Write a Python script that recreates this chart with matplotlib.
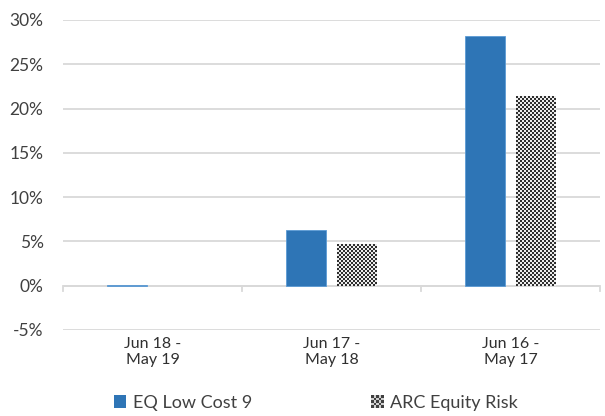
import numpy as np
import matplotlib.pyplot as plt
from matplotlib.patches import Patch
from matplotlib.legend_handler import HandlerPatch

plt.rcParams['font.family'] = ['Lato', 'DejaVu Sans']

categories = ["Jun 18 -\nMay 19", "Jun 17 -\nMay 18", "Jun 16 -\nMay 17"]
eq_low_cost = [0.1, 6.3, 28.2]
arc_equity = [0.0, 4.7, 21.4]
yticks = [-5, 0, 5, 10, 15, 20, 25, 30]

blue = "#2E75B6"
txt = "#404040"
grid = "#d9d9d9"

fig = plt.figure(figsize=(6.05, 4.16), dpi=100)
ax = fig.add_axes([63/605, 1-330/416, 537/605, 310/416])

x = np.arange(len(categories))
w = 0.223
off = 0.145

ax.bar(x - off, eq_low_cost, w, color=blue, edgecolor="#5b9bd5", linewidth=0.6, zorder=3)
arc_bars = ax.bar(x + off, arc_equity, w, color="white", linewidth=0, zorder=3)

# fine checkerboard fill for the ARC bars
for b in arc_bars:
    h = b.get_height()
    if h <= 0:
        continue
    nx = 20
    ny = max(1, int(round(h * 8.87 / 2)))
    checker = (np.indices((ny, nx)).sum(axis=0) % 2)
    im = ax.imshow(checker, cmap="gray", vmin=-0.25, vmax=1.1, interpolation="nearest",
                   extent=[b.get_x(), b.get_x() + b.get_width(), 0, h],
                   aspect="auto", zorder=4)
    im.set_clip_path(b)

ax.set_xlim(-0.5, 2.5)
ax.set_ylim(-5, 30)
ax.set_yticks(yticks)
ax.set_yticklabels([f"{v}%" for v in yticks], fontsize=12.5, color=txt)
ax.yaxis.grid(True, color=grid, linewidth=1.3, zorder=0)
ax.tick_params(axis="y", length=0, pad=14)

# category labels below the plot, boundary ticks on the zero line
ax.set_xticks([])
for i, c in enumerate(categories):
    ax.text(i, -5.8, c, ha="center", va="top", fontsize=11.5, color="#303030", linespacing=1.15)
ax.axhline(0, color=grid, linewidth=1.3, zorder=2)
for bx in [-0.5, 0.5, 1.5, 2.5]:
    ax.plot([bx, bx], [0, -0.6], color=grid, linewidth=1.3, clip_on=False, zorder=2)

for s in ax.spines.values():
    s.set_visible(False)


class CheckerHandler(HandlerPatch):
    def create_artists(self, legend, orig_handle, xdescent, ydescent, width, height, fontsize, trans):
        arts = []
        n = 5
        cell = height / n
        x0 = width - height
        for i in range(n):
            for j in range(n):
                col = "#404040" if (i + j) % 2 == 0 else "#d0d0d0"
                p = plt.Rectangle((x0 + j * cell - xdescent, i * cell - ydescent), cell, cell,
                                  facecolor=col, edgecolor="none", transform=trans)
                arts.append(p)
        return arts


class SquareHandler(HandlerPatch):
    def create_artists(self, legend, orig_handle, xdescent, ydescent, width, height, fontsize, trans):
        p = plt.Rectangle((width - height - xdescent, -ydescent), height, height,
                          facecolor=blue, edgecolor="none", transform=trans)
        return [p]


h1 = Patch(facecolor=blue)
h2 = Patch(facecolor="gray")
leg = fig.legend([h1, h2], ["EQ Low Cost 9", "ARC Equity Risk"], loc="center",
                 bbox_to_anchor=(0.522, 1-403/416), ncol=2, frameon=False, fontsize=13,
                 handler_map={h1: SquareHandler(), h2: CheckerHandler()},
                 handlelength=0.7, handleheight=0.7, handletextpad=0.35, columnspacing=6.6)
for t in leg.get_texts():
    t.set_color(txt)

fig.savefig("out.png", dpi=100)
